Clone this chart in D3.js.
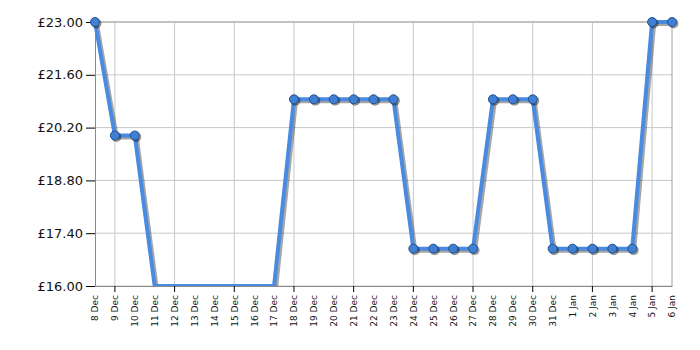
<!DOCTYPE html>
<html>
<head>
<meta charset="utf-8">
<script src="https://cdn.jsdelivr.net/npm/d3@7"></script>
<style>
  body { margin: 0; background: #fff; }
  svg { display: block; }
</style>
</head>
<body>
<div id="chart"></div>
<script>
// day labels on the x axis
var DAYS = ["8 Dec", "9 Dec", "10 Dec", "11 Dec", "12 Dec", "13 Dec", "14 Dec", "15 Dec",
    "16 Dec", "17 Dec", "18 Dec", "19 Dec", "20 Dec", "21 Dec", "22 Dec", "23 Dec",
    "24 Dec", "25 Dec", "26 Dec", "27 Dec", "28 Dec", "29 Dec", "30 Dec", "31 Dec",
    "1 Jan", "2 Jan", "3 Jan", "4 Jan", "5 Jan", "6 Jan"];
// price per day (null = no price, drawn on the floor of the chart)
var PRICES = [23.00, 19.99, 19.99, null, null, null, null, null,
    null, null, 20.95, 20.95, 20.95, 20.95, 20.95, 20.95,
    16.99, 16.99, 16.99, 16.99, 20.95, 20.95, 20.95, 16.99,
    16.99, 16.99, 16.99, 16.99, 23.00, 23.00];
// y axis ticks
var Y_TICKS = [16.00, 17.40, 18.80, 20.20, 21.60, 23.00];

function drawChart() {
    var margin = { top: 22, right: 28, bottom: 64, left: 95 };
    var width = 700 - margin.left - margin.right;
    var height = 350 - margin.top - margin.bottom;

    var svg = d3.select("#chart")
        .append("svg")
        .attr("width", 700)
        .attr("height", 350);

    // clip the line to the plot area
    svg.append("defs")
        .append("clipPath")
        .attr("id", "plot-clip")
        .append("rect")
        .attr("x", -10)
        .attr("y", -10)
        .attr("width", width + 20)
        .attr("height", height + 10);

    var chart = svg.append("g")
        .attr("transform", "translate(" + margin.left + "," + margin.top + ")");

    // x scale: one point per day
    var x = d3.scalePoint()
        .domain(DAYS)
        .range([0, width]);

    // y scale
    var y = d3.scaleLinear()
        .domain([d3.min(Y_TICKS), d3.max(Y_TICKS)])
        .range([height, 0]);

    // every third day gets a grid line and a tick
    var gridDays = DAYS.filter(function (d, i) { return i % 3 === 1; });

    // horizontal grid lines
    chart.append("g")
        .selectAll("line")
        .data(Y_TICKS)
        .enter()
        .append("line")
        .attr("x1", 0)
        .attr("x2", width)
        .attr("y1", function (d) { return y(d); })
        .attr("y2", function (d) { return y(d); })
        .attr("stroke", "#c8c8c8")
        .attr("stroke-width", 1);

    // vertical grid lines
    chart.append("g")
        .selectAll("line")
        .data(gridDays)
        .enter()
        .append("line")
        .attr("x1", function (d) { return x(d); })
        .attr("x2", function (d) { return x(d); })
        .attr("y1", 0)
        .attr("y2", height)
        .attr("stroke", "#c8c8c8")
        .attr("stroke-width", 1);

    // frame: top and right borders
    chart.append("line")
        .attr("x1", 0).attr("x2", width).attr("y1", 0).attr("y2", 0)
        .attr("stroke", "#a0a0a0");
    chart.append("line")
        .attr("x1", width).attr("x2", width).attr("y1", 0).attr("y2", height)
        .attr("stroke", "#a0a0a0");

    // left axis
    var yAxis = chart.append("g")
        .call(d3.axisLeft(y)
            .tickValues(Y_TICKS)
            .tickSize(9)
            .tickSizeOuter(0)
            .tickPadding(3)
            .tickFormat(function (d) { return "£" + d3.format(".2f")(d); }));
    yAxis.select(".domain").attr("stroke", "#8a8a8a");
    yAxis.selectAll(".tick line").attr("stroke", "#000");
    yAxis.selectAll("text")
        .attr("font-family", "DejaVu Sans, Verdana, sans-serif")
        .attr("font-size", "13px")
        .attr("fill", "#111");

    // bottom axis
    var xAxis = chart.append("g")
        .attr("transform", "translate(0," + height + ")")
        .call(d3.axisBottom(x).tickSize(0).tickSizeOuter(0));
    xAxis.select(".domain").attr("stroke", "#8a8a8a");
    xAxis.selectAll("text")
        .attr("font-family", "DejaVu Sans, Verdana, sans-serif")
        .attr("font-size", "9px")
        .attr("fill", "#111")
        .attr("text-anchor", "end")
        .attr("transform", "rotate(-90)")
        .attr("x", -9)
        .attr("y", 0)
        .attr("dy", "0.32em");

    // tick marks on every third day
    xAxis.append("g")
        .selectAll("line")
        .data(gridDays)
        .enter()
        .append("line")
        .attr("x1", function (d) { return x(d); })
        .attr("x2", function (d) { return x(d); })
        .attr("y1", 0)
        .attr("y2", 6)
        .attr("stroke", "#000");

    var points = DAYS.map(function (d, i) { return { day: d, price: PRICES[i] }; });

    var line = d3.line()
        .x(function (d) { return x(d.day); })
        .y(function (d) { return d.price === null ? y.range()[0] : y(d.price); });

    var lineGroup = chart.append("g")
        .attr("clip-path", "url(#plot-clip)");

    // shadow of the line
    lineGroup.append("path")
        .datum(points)
        .attr("fill", "none")
        .attr("stroke", "#000")
        .attr("stroke-opacity", 0.35)
        .attr("stroke-width", 4)
        .attr("stroke-linejoin", "round")
        .attr("transform", "translate(2,2)")
        .attr("d", line);

    // price line
    lineGroup.append("path")
        .datum(points)
        .attr("fill", "none")
        .attr("stroke", "#4a8ae0")
        .attr("stroke-width", 4)
        .attr("stroke-linejoin", "round")
        .attr("d", line);

    var known = points.filter(function (d) { return d.price !== null; });

    // marker shadows
    chart.append("g")
        .selectAll("circle")
        .data(known)
        .enter()
        .append("circle")
        .attr("cx", function (d) { return x(d.day) + 1.5; })
        .attr("cy", function (d) { return y(d.price) + 1.5; })
        .attr("r", 5)
        .attr("fill", "#000")
        .attr("fill-opacity", 0.4);

    // markers
    chart.append("g")
        .selectAll("circle")
        .data(known)
        .enter()
        .append("circle")
        .attr("cx", function (d) { return x(d.day); })
        .attr("cy", function (d) { return y(d.price); })
        .attr("r", 4.5)
        .attr("fill", "#3f7fd4")
        .attr("stroke", "#24528f")
        .attr("stroke-width", 1);
}

window.onload = drawChart;
</script>
</body>
</html>
